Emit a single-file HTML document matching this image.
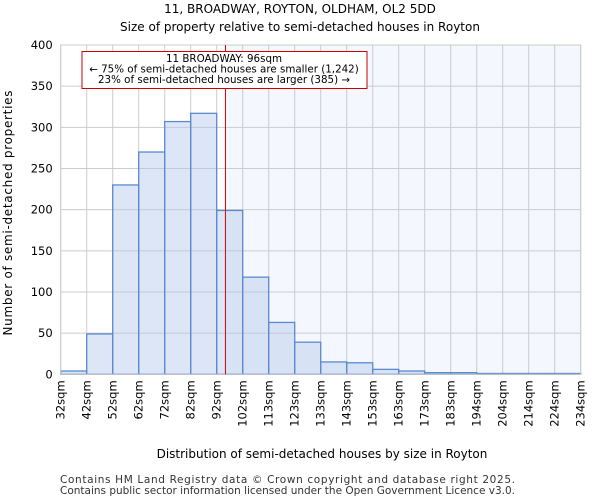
<!DOCTYPE html>
<html><head><meta charset="utf-8"><style>
body{margin:0;background:#fff;font-family:"DejaVu Sans","Liberation Sans",sans-serif;}
</style></head><body>
<svg width="600" height="500" xmlns="http://www.w3.org/2000/svg" font-family="DejaVu Sans, Liberation Sans, sans-serif">
<text x="300" y="13" text-anchor="middle" font-size="12">11, BROADWAY, ROYTON, OLDHAM, OL2 5DD</text>
<text x="300" y="31" text-anchor="middle" font-size="12">Size of property relative to semi-detached houses in Royton</text>
<g id="plot"></g>
<text x="322" y="458" text-anchor="middle" font-size="12">Distribution of semi-detached houses by size in Royton</text>
<text x="12" y="213" text-anchor="middle" font-size="12" textLength="245" transform="rotate(-90 12 213)">Number of semi-detached properties</text>
<text x="60" y="483" font-size="10.5" textLength="455" fill="#333">Contains HM Land Registry data © Crown copyright and database right 2025.</text>
<text x="60" y="494" font-size="10.5" textLength="455" fill="#333">Contains public sector information licensed under the Open Government Licence v3.0.</text>
</svg>
<script>
const categories=["32sqm","42sqm","52sqm","62sqm","72sqm","82sqm","92sqm","102sqm","113sqm","123sqm","133sqm","143sqm","153sqm","163sqm","173sqm","183sqm","194sqm","204sqm","214sqm","224sqm","234sqm"];
const counts=[4,49,230,270,307,317,199,118,63,39,15,14,6,4,2,2,1,1,1,1];
const yTicks=[0,50,100,150,200,250,300,350,400];
const propertySize=96;
const binStart=32, binWidth=10.1;
const NS="http://www.w3.org/2000/svg";
const L=60.7,R=580.7,T=45,B=374.3,yMax=400;
const n=counts.length, bw=(R-L)/n;
const xs=i=>L+i*bw;
const ys=v=>B-(v/yMax)*(B-T);
const xv=v=>L+(v-binStart)/(binWidth*n)*(R-L);
const g=document.getElementById('plot');
function mk(t,a){const e=document.createElementNS(NS,t);for(const k in a)e.setAttribute(k,a[k]);g.appendChild(e);return e;}
const px=xv(propertySize);
let e=mk('rect',{x:px,y:T,width:R-px,height:B-T,fill:'#f4f7fe'});


yTicks.forEach(v=>{const l=mk('line',{x1:L,x2:R,y1:ys(v),y2:ys(v),stroke:'#ccc','stroke-width':1});


const t=mk('text',{x:L-8,y:ys(v)+4,'text-anchor':'end','font-size':11.5});t.textContent=v;

});
categories.forEach((c,i)=>{const x=xs(i);const l=mk('line',{x1:x,x2:x,y1:T,y2:B,stroke:'#ccc','stroke-width':1});


const t=mk('text',{x:x+4,y:B+6,'text-anchor':'end','font-size':11.5,transform:`rotate(-90 ${x+4} ${B+6})`});t.textContent=c;

});
counts.forEach((v,i)=>{const r=mk('rect',{x:xs(i),y:ys(v),width:bw,height:B-ys(v),fill:'rgba(180,200,235,0.45)',stroke:'#5a8ad0','stroke-width':1.3});

});
e=mk('rect',{x:L,y:T,width:R-L,height:B-T,fill:'none',stroke:'#ccc','stroke-width':1});


e=mk('line',{x1:px,x2:px,y1:T,y2:B,stroke:'#dd0000','stroke-width':1});


e=mk('rect',{x:82,y:51.5,width:285,height:37,fill:'#fff',stroke:'#cc0000','stroke-width':1});


[["11 BROADWAY: 96sqm",62],["← 75% of semi-detached houses are smaller (1,242)",72.5],["23% of semi-detached houses are larger (385) →",83]].forEach(([s,y],i)=>{const t=mk('text',{x:224,y:y,'text-anchor':'middle','font-size':10.3});t.textContent=s;

});
</script>
</body></html>
